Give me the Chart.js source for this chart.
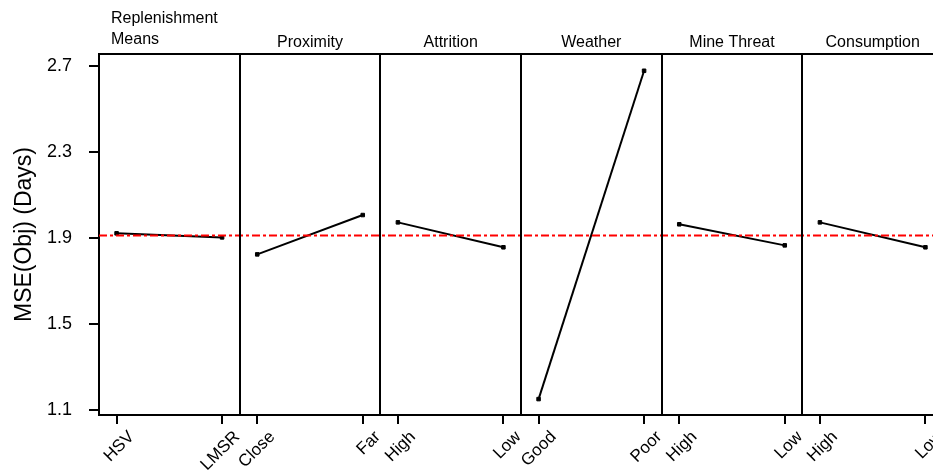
<!DOCTYPE html>
<html>
<head>
<meta charset="utf-8">
<script src="https://cdn.jsdelivr.net/npm/chart.js@4/dist/chart.umd.min.js"></script>
<style>
  html, body { margin: 0; padding: 0; background: #fff; overflow: hidden; }
  #wrap { width: 948px; height: 472px; }
</style>
</head>
<body>
<div id="wrap"><canvas id="mainEffects"></canvas></div>
<script>
// Factors (panels) and their two levels
const factors = [['Replenishment', 'Means'], 'Proximity', 'Attrition', 'Weather', 'Mine Threat', 'Consumption'];
const levels = [['HSV', 'LMSR'], ['Close', 'Far'], ['High', 'Low'], ['Good', 'Poor'], ['High', 'Low'], ['High', 'Low']];
// Mean MSE(Obj) at each level
const levelMeans = [[1.922, 1.903], [1.824, 2.007], [1.973, 1.857], [1.151, 2.678], [1.964, 1.866], [1.973, 1.857]];
const grandMean = 1.912;
const yTicks = [1.1, 1.5, 1.9, 2.3, 2.7];

const FONT = "'Liberation Sans', Arial, sans-serif";
const levelPos = [0.125, 0.875];
const xMax = 6;

const tickValues = [];
const tickLabels = [];
levels.forEach((pair, i) => {
    pair.forEach((lab, j) => {
        tickValues.push(i + levelPos[j]);
        tickLabels.push(lab);
    });
});

const datasets = levelMeans.map((pair, i) => ({
    label: Array.isArray(factors[i]) ? factors[i].join(' ') : factors[i],
    data: pair.map((v, j) => ({ x: i + levelPos[j], y: v })),
    borderColor: '#000',
    backgroundColor: '#000',
    borderWidth: 2,
    pointStyle: 'rect',
    pointRadius: 2.5,
    pointBorderWidth: 1,
}));

datasets.unshift({
    label: 'Mean',
    data: [{ x: 0, y: grandMean }, { x: xMax, y: grandMean }],
    borderColor: '#ff0000',
    borderWidth: 2,
    borderDash: [8, 3, 3, 3],
    pointRadius: 0,
});

// Panel dividers, top frame and panel titles
const panelPlugin = {
    id: 'panels',
    afterDatasetsDraw(chart) {
        const { ctx, chartArea, scales } = chart;
        const x = scales.x;
        ctx.save();
        ctx.strokeStyle = '#000';
        ctx.lineWidth = 2;
        ctx.beginPath();
        ctx.moveTo(chartArea.left, chartArea.top);
        ctx.lineTo(chartArea.right, chartArea.top);
        for (let i = 1; i <= factors.length; i++) {
            const px = Math.round(x.getPixelForValue(i));
            ctx.moveTo(px, chartArea.top);
            ctx.lineTo(px, chartArea.bottom);
        }
        ctx.stroke();

        ctx.fillStyle = '#000';
        ctx.font = '16px ' + FONT;
        ctx.textBaseline = 'alphabetic';
        factors.forEach((f, i) => {
            const left = x.getPixelForValue(i);
            const right = x.getPixelForValue(i + 1);
            if (Array.isArray(f)) {
                ctx.textAlign = 'left';
                f.forEach((line, k) => {
                    ctx.fillText(line, left + 12, chartArea.top - 31 + k * 21);
                });
            } else {
                ctx.textAlign = 'center';
                ctx.fillText(f, (left + right) / 2, chartArea.top - 7);
            }
        });
        ctx.restore();
    }
};

new Chart(document.getElementById('mainEffects'), {
    type: 'line',
    data: { datasets },
    options: {
        responsive: true,
        maintainAspectRatio: false,
        animation: false,
        layout: { padding: { top: 54, left: 0, right: 0, bottom: 0 } },
        plugins: {
            legend: { display: false },
            tooltip: { enabled: false },
        },
        scales: {
            x: {
                type: 'linear',
                min: 0,
                max: xMax,
                afterBuildTicks: (scale) => {
                    scale.ticks = tickValues.map(v => ({ value: v }));
                },
                afterFit: (scale) => {
                    scale.height = 57;
                    scale.paddingLeft = 0;
                    scale.paddingRight = 0;
                },
                ticks: {
                    autoSkip: false,
                    maxRotation: 45,
                    minRotation: 45,
                    padding: 3,
                    labelOffset: 15,
                    color: '#000',
                    font: { family: FONT, size: 17 },
                    callback: (value, index) => tickLabels[index],
                },
                grid: {
                    drawOnChartArea: false,
                    drawTicks: true,
                    tickLength: 9,
                    color: '#000',
                    lineWidth: 2,
                },
                border: { display: true, color: '#000', width: 2 },
            },
            y: {
                min: 1.077,
                max: 2.756,
                afterBuildTicks: (scale) => {
                    scale.ticks = yTicks.map(v => ({ value: v }));
                },
                afterFit: (scale) => {
                    scale.width = 99;
                },
                ticks: {
                    padding: 17,
                    color: '#000',
                    font: { family: FONT, size: 18 },
                    callback: (value) => value.toFixed(1),
                },
                grid: {
                    drawOnChartArea: false,
                    drawTicks: true,
                    tickLength: 10,
                    color: '#000',
                    lineWidth: 2,
                },
                border: { display: true, color: '#000', width: 2 },
                title: {
                    display: true,
                    text: 'MSE(Obj) (Days)',
                    color: '#000',
                    font: { family: FONT, size: 23 },
                    padding: { top: 11, bottom: 0 },
                },
            },
        },
    },
    plugins: [panelPlugin],
});
</script>
</body>
</html>
